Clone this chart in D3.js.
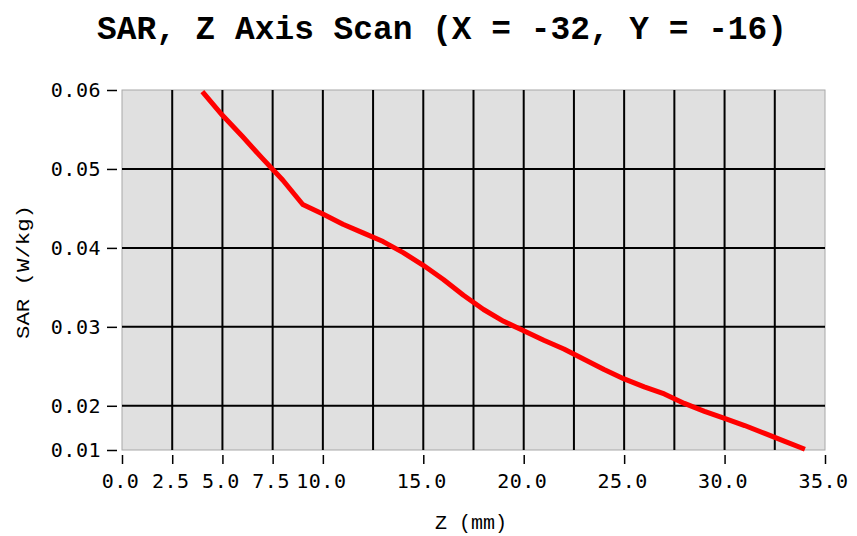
<!DOCTYPE html>
<html>
<head>
<meta charset="utf-8">
<script src="https://cdn.jsdelivr.net/npm/d3@7"></script>
<style>
  body { margin: 0; background: #fff; }
  svg text { fill: #000; }
</style>
</head>
<body>
<svg id="chart" width="857" height="536"></svg>
<script>
// Z scan positions (mm) and SAR values (W/kg)
const zValues = [4, 5, 6, 7, 8, 9, 10, 11, 12, 13, 14, 15, 16, 17, 18, 19, 20,
  21, 22, 23, 24, 25, 26, 27, 28, 29, 30, 31, 32, 33, 34];
const sarValues = [0.0598, 0.0568, 0.0541, 0.0513, 0.0486, 0.0455, 0.0443, 0.0430,
  0.0419, 0.0408, 0.0394, 0.0378, 0.0360, 0.0340, 0.0322, 0.0307, 0.0295, 0.0283,
  0.0272, 0.0259, 0.0246, 0.0234, 0.0224, 0.0215, 0.0203, 0.0193, 0.0184, 0.0175,
  0.0165, 0.0155, 0.0145];

const xTickLabels = [0, 2.5, 5, 7.5, 10, 15, 20, 25, 30, 35];
const xGrid = [2.5, 5, 7.5, 10, 12.5, 15, 17.5, 20, 22.5, 25, 27.5, 30, 32.5];
const yTicks = [0.0144, 0.02, 0.03, 0.04, 0.05, 0.06];
const yGrid = [0.02, 0.03, 0.04, 0.05];

const titleText = 'SAR, Z Axis Scan (X = -32, Y = -16)';

const svg = d3.select('#chart');
const plot = { left: 122, right: 825, top: 90, bottom: 450 };

const x = d3.scaleLinear().domain([0, 35]).range([plot.left, plot.right]);
const y = d3.scaleLinear().domain([0.0144, 0.06]).range([plot.bottom, plot.top]);

// title
svg.append('text')
  .attr('x', 442).attr('y', 39)
  .attr('text-anchor', 'middle')
  .attr('font-family', 'Liberation Mono, monospace')
  .attr('font-weight', 'bold')
  .attr('font-size', 33)
  .attr('textLength', 690)
  .attr('lengthAdjust', 'spacingAndGlyphs')
  .text(titleText);

// plot background
svg.append('rect')
  .attr('x', plot.left).attr('y', plot.top)
  .attr('width', plot.right - plot.left).attr('height', plot.bottom - plot.top)
  .attr('fill', '#e0e0e0')
  .attr('stroke', '#a8a8a8').attr('stroke-width', 1);

// grid
svg.append('g').selectAll('line').data(xGrid).join('line')
  .attr('x1', d => x(d)).attr('x2', d => x(d))
  .attr('y1', plot.top).attr('y2', plot.bottom)
  .attr('stroke', '#000').attr('stroke-width', 2);

svg.append('g').selectAll('line').data(yGrid).join('line')
  .attr('x1', plot.left).attr('x2', plot.right)
  .attr('y1', d => y(d)).attr('y2', d => y(d))
  .attr('stroke', '#000').attr('stroke-width', 2);

// axes (offset from the plot box)
const xAxis = d3.axisBottom(x)
  .tickValues(xTickLabels)
  .tickSize(9).tickPadding(6)
  .tickFormat(d3.format('.1f'));
const gx = svg.append('g')
  .attr('transform', `translate(0,${plot.bottom + 5})`)
  .call(xAxis);

const yAxis = d3.axisLeft(y)
  .tickValues(yTicks)
  .tickSize(10).tickPadding(6)
  .tickFormat(d3.format('.2f'));
const gy = svg.append('g')
  .attr('transform', `translate(${plot.left - 5},0)`)
  .call(yAxis);

[gx, gy].forEach(g => {
  g.select('.domain').remove();
  g.selectAll('.tick line').attr('stroke', '#000').attr('stroke-width', 1.5);
  g.selectAll('.tick text')
    .attr('font-family', 'DejaVu Sans Mono, monospace')
    .attr('font-size', 20)
    .attr('letter-spacing', 0.5)
    .attr('fill', '#000');
});
gx.selectAll('.tick text').attr('dy', '0.9em').attr('dx', -2);

// axis titles
svg.append('text')
  .attr('x', 471).attr('y', 529)
  .attr('text-anchor', 'middle')
  .attr('font-family', 'Liberation Mono, monospace')
  .attr('font-size', 20)
  .text('Z (mm)');

svg.append('text')
  .attr('transform', 'translate(29,272) rotate(-90)')
  .attr('text-anchor', 'middle')
  .attr('font-family', 'Liberation Mono, monospace')
  .attr('font-size', 19)
  .attr('textLength', 134)
  .attr('lengthAdjust', 'spacingAndGlyphs')
  .text('SAR (W/kg)');

// data line
const points = zValues.map((z, i) => [z, sarValues[i]]);
svg.append('path')
  .datum(points)
  .attr('fill', 'none')
  .attr('stroke', '#ff0000')
  .attr('stroke-width', 5)
  .attr('stroke-linejoin', 'round')
  .attr('d', d3.line().x(d => x(d[0])).y(d => y(d[1])));
</script>
</body>
</html>
